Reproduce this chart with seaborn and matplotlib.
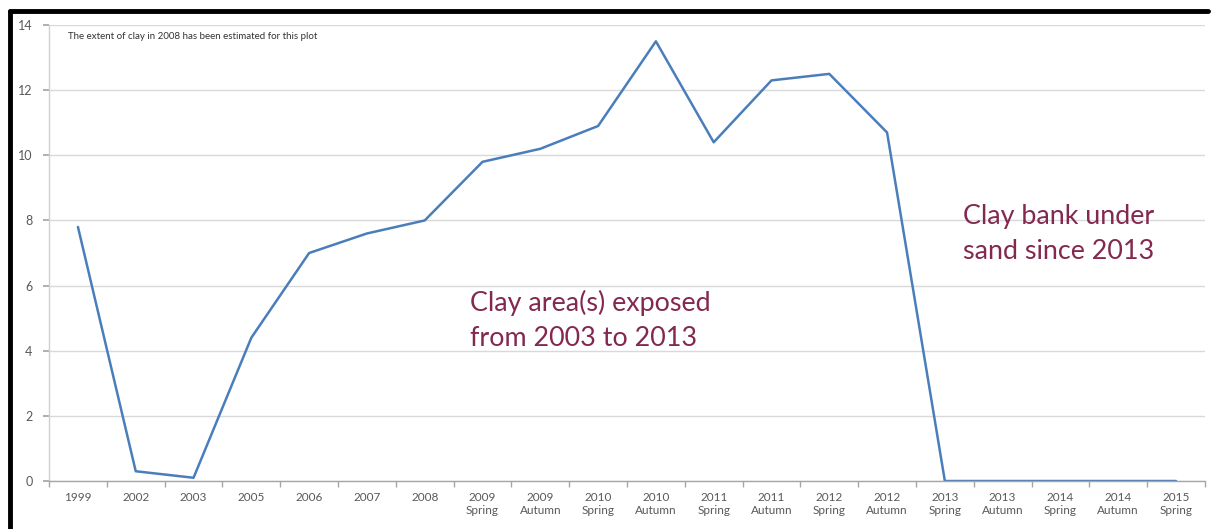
import matplotlib
matplotlib.use("Agg")
import matplotlib.pyplot as plt
import seaborn as sns
import pandas as pd
import numpy as np
from matplotlib.lines import Line2D
from matplotlib.ticker import FixedLocator

periods = ["1999", "2002", "2003", "2005", "2006", "2007", "2008",
           "2009\nSpring", "2009\nAutumn", "2010\nSpring", "2010\nAutumn",
           "2011\nSpring", "2011\nAutumn", "2012\nSpring", "2012\nAutumn",
           "2013\nSpring", "2013\nAutumn", "2014\nSpring", "2014\nAutumn",
           "2015\nSpring"]
clay_extent = [7.8, 0.3, 0.1, 4.4, 7.0, 7.6, 8.0, 9.8, 10.2, 10.9, 13.5,
               10.4, 12.3, 12.5, 10.7, 0.0, 0.0, 0.0, 0.0, 0.0]
y_ticks = [0, 2, 4, 6, 8, 10, 12, 14]

sns.set_theme(style="white")
plt.rcParams['font.family'] = ['Lato', 'DejaVu Sans']

df = pd.DataFrame({"pos": range(len(periods)), "extent": clay_extent})

fig = plt.figure(figsize=(12.11, 5.29), dpi=100)
ax = fig.add_axes([0.0405, 0.0907, 0.9545, 0.862])

sns.lineplot(data=df, x="pos", y="extent", ax=ax, color="#4a7ebb",
             linewidth=1.8, sort=False)

ax.set_xlim(-0.5, len(periods) - 0.5)
ax.set_ylim(0, 14)
ax.set_yticks(y_ticks)
ax.set_yticklabels([str(t) for t in y_ticks])
ax.set_xticks(range(len(periods)))
ax.set_xticklabels(periods, va="top")
ax.xaxis.set_minor_locator(FixedLocator(np.arange(-0.5, len(periods), 1.0)))
ax.tick_params(axis="x", which="major", length=0, pad=8, labelsize=8.5,
               labelcolor="#595959")
ax.tick_params(axis="x", which="minor", length=4, color="#a6a6a6",
               direction="out", bottom=True)
ax.tick_params(axis="y", which="major", length=4, color="#a6a6a6",
               direction="out", left=True, labelsize=9, labelcolor="#595959",
               pad=8)
ax.set_xlabel("")
ax.set_ylabel("")

ax.grid(axis="y", color="#d9d9d9", linewidth=1)
ax.set_axisbelow(True)
for side in ["top", "right"]:
    ax.spines[side].set_visible(False)
ax.spines["left"].set_color("#d0d0d0")
ax.spines["bottom"].set_color("#a6a6a6")
ax.spines["left"].set_linewidth(1)
ax.spines["bottom"].set_linewidth(1)

ax.text(0.016, 0.985, "The extent of clay in 2008 has been estimated for this plot",
        transform=ax.transAxes, fontsize=7, color="#333333", va="top", ha="left")

anno_color = "#83294f"
ax.text(6.78, 5.86, "Clay area(s) exposed\nfrom 2003 to 2013", fontsize=19.4,
        color=anno_color, ha="left", va="top", linespacing=1.5)
ax.text(15.31, 8.52, "Clay bank under\nsand since 2013", fontsize=19.4,
        color=anno_color, ha="left", va="top", linespacing=1.5)

# black frame (top and left edges)
fig.add_artist(Line2D([9.5 / 1211, 1208 / 1211], [1 - 11 / 529, 1 - 11 / 529],
                      transform=fig.transFigure, color="black", linewidth=3.5))
fig.add_artist(Line2D([9.5 / 1211, 9.5 / 1211], [0, 1 - 11 / 529],
                      transform=fig.transFigure, color="black", linewidth=3.5))

fig.savefig("out.png", dpi=100)
